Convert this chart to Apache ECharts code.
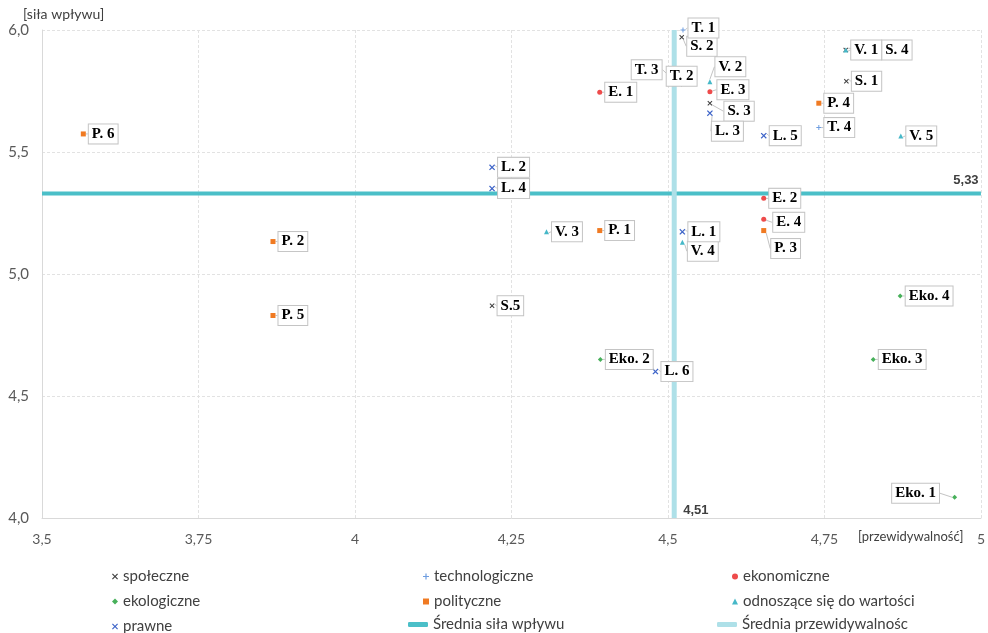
<!DOCTYPE html>
<html><head><meta charset="utf-8">
<script src="https://cdn.jsdelivr.net/npm/echarts@6/dist/echarts.min.js"></script>
<style>html,body{margin:0;padding:0;background:#fff}#c{width:988px;height:633px}</style>
</head><body><div id="c"></div>
<script>
// [x (przewidywalność), y (siła wpływu), label]
const spoleczne = [[4.785,5.79,'S. 1'],[4.522,5.97,'S. 2'],[4.567,5.70,'S. 3'],[4.784,5.918,'S. 4'],[4.219,4.87,'S.5']];
const technologiczne = [[4.524,6.00,'T. 1'],[4.51,5.79,'T. 2'],[4.51,5.80,'T. 3'],[4.741,5.60,'T. 4']];
const ekonomiczne = [[4.391,5.745,'E. 1'],[4.653,5.31,'E. 2'],[4.567,5.747,'E. 3'],[4.653,5.224,'E. 4']];
const ekologiczne = [[4.958,4.085,'Eko. 1'],[4.392,4.65,'Eko. 2'],[4.828,4.65,'Eko. 3'],[4.871,4.91,'Eko. 4']];
const polityczne = [[4.391,5.178,'P. 1'],[3.869,5.133,'P. 2'],[4.653,5.178,'P. 3'],[4.741,5.70,'P. 4'],[3.869,4.83,'P. 5'],[3.566,5.574,'P. 6']];
const wartosci = [[4.784,5.918,'V. 1'],[4.567,5.788,'V. 2'],[4.306,5.173,'V. 3'],[4.523,5.13,'V. 4'],[4.872,5.566,'V. 5']];
const prawne = [[4.523,5.173,'L. 1'],[4.219,5.437,'L. 2'],[4.567,5.659,'L. 3'],[4.219,5.35,'L. 4'],[4.653,5.567,'L. 5'],[4.48,4.60,'L. 6']];
const sredniaSila = 5.33;
const sredniaPrzew = 4.51;
const xRange = [3.5, 5];
const yRange = [4, 6];

// label nudges (style only)
const labelOffsets = {
  'T. 1':[0,-2],'S. 2':[0,9],'T. 3':[-48,-9],'T. 2':[-13,-5],'V. 2':[0,-15],'E. 3':[2,-2],
  'S. 3':[9,8],'L. 3':[-4,18],'S. 4':[31,0],'E. 4':[4,3],'P. 3':[2,18],'V. 4':[0,9],'Eko. 1':[-68,-4]
};

const plusPath = 'path://M4,0H6V4H10V6H6V10H4V6H0V4H4Z';
const crossPath = 'path://M0,1.4L1.4,0L5,3.6L8.6,0L10,1.4L6.4,5L10,8.6L8.6,10L5,6.4L1.4,10L0,8.6L3.6,5Z';
const fmtComma = v => String(v).replace('.', ',');

function scatter(name, data, color, symbol, size) {
  return {
    name, type: 'scatter', z: 2, data: data.map(d => ({value:[d[0], d[1]], name: d[2]})),
    symbol, symbolSize: size,
    itemStyle: {color, opacity: 1},
    label: {
      show: true, position: 'right', distance: 3, formatter: p => p.name,
      fontFamily: 'Liberation Serif', fontWeight: 'bold', fontSize: 15, color: '#000',
      backgroundColor: '#fff', borderColor: '#c4c4c4', borderWidth: 1, padding: [3,3,1,3]
    },
    labelLine: {show: true, lineStyle: {color: '#c4c4c4', width: 1}},
    labelLayout: p => { const o = labelOffsets[p.text]; return o ? {dx:o[0], dy:o[1]} : {}; },
    emphasis: {disabled: true}
  };
}

const chart = echarts.init(document.getElementById('c'), null, {renderer:'canvas'});
const textColor = '#595959';
const legendText = {fontFamily:'Lato', fontSize:15, color:'#404040', lineHeight:14};
const legendBase = {orient:'vertical', padding:0, itemWidth:6, itemHeight:6, itemGap:10, selectedMode:false, textStyle:legendText, height:80};
const meanLabel = {fontFamily:'Liberation Sans', fontWeight:'bold', fontSize:13, color:'#404040'};
chart.setOption({
  animation: false,
  backgroundColor: '#fff',
  grid: {left: 42, right: 7, top: 30, bottom: 115},
  xAxis: {
    type: 'value', min: xRange[0], max: xRange[1], interval: 0.25,
    axisLine: {show: true, lineStyle: {color: '#d9d9d9'}}, axisTick: {show: false},
    axisLabel: {formatter: fmtComma, fontFamily: 'Lato', fontSize: 14, color: textColor, margin: 14},
    splitLine: {show: true, lineStyle: {color: '#e2e2e2', type: [3,2]}}
  },
  yAxis: {
    type: 'value', min: yRange[0], max: yRange[1], interval: 0.5,
    axisLine: {show: true, lineStyle: {color: '#d9d9d9'}}, axisTick: {show: false},
    axisLabel: {formatter: v => v.toFixed(1).replace('.', ','), fontFamily: 'Lato', fontSize: 15, color: textColor, margin: 13},
    splitLine: {show: true, lineStyle: {color: '#e2e2e2', type: [3,2]}}
  },
  graphic: [
    {type:'text', left: 23, top: 7, style:{text:'[siła wpływu]', font:'14px Lato', fill:'#404040'}},
    {type:'text', left: 858, top: 530, style:{text:'[przewidywalność]', font:'13px Lato', fill:'#404040'}}
  ],
  legend: [
    Object.assign({}, legendBase, {left:112, top:569, data:['społeczne','ekologiczne','prawne']}),
    Object.assign({}, legendBase, {left:423, top:569, data:['technologiczne','polityczne']}),
    Object.assign({}, legendBase, {left:732, top:569, data:['ekonomiczne','odnoszące się do wartości']}),
    {left:408, top:617, padding:0, itemWidth:20, itemHeight:5, selectedMode:false, textStyle:legendText,
     data:[{name:'Średnia siła wpływu', icon:'roundRect'}]},
    {left:717, top:617, padding:0, itemWidth:20, itemHeight:5, selectedMode:false, textStyle:legendText,
     data:[{name:'Średnia przewidywalnośc', icon:'roundRect'}]}
  ],
  series: [
    {name:'Średnia siła wpływu', type:'line', z:1, symbol:'circle', symbolSize:0, showSymbol:true, silent:true,
     itemStyle:{color:'#4BBFC8'}, lineStyle:{color:'#4BBFC8', width:4},
     data:[[xRange[0], sredniaSila], {value:[xRange[1], sredniaSila], label:Object.assign({show:true, position:'top', offset:[-15,-2],
       formatter: () => fmtComma(sredniaSila)}, meanLabel)}]},
    {name:'Średnia przewidywalnośc', type:'line', z:1, symbol:'circle', symbolSize:0, showSymbol:true, silent:true,
     itemStyle:{color:'#AEE0E8'}, lineStyle:{color:'#AEE0E8', width:5},
     data:[{value:[sredniaPrzew, yRange[0]], label:Object.assign({show:true, position:'right', offset:[4,-8],
       formatter: () => fmtComma(sredniaPrzew)}, meanLabel)}, [sredniaPrzew, yRange[1]]]},
    scatter('społeczne', spoleczne, '#404040', crossPath, 5),
    scatter('technologiczne', technologiczne, '#6E9DE0', plusPath, 5),
    scatter('ekonomiczne', ekonomiczne, '#EE4B4B', 'circle', 5),
    scatter('ekologiczne', ekologiczne, '#47B05A', 'diamond', 5),
    scatter('polityczne', polityczne, '#F07A22', 'rect', 5),
    scatter('odnoszące się do wartości', wartosci, '#46B8C8', 'triangle', 5),
    scatter('prawne', prawne, '#3E64C8', crossPath, 6)
  ]
});
</script></body></html>
